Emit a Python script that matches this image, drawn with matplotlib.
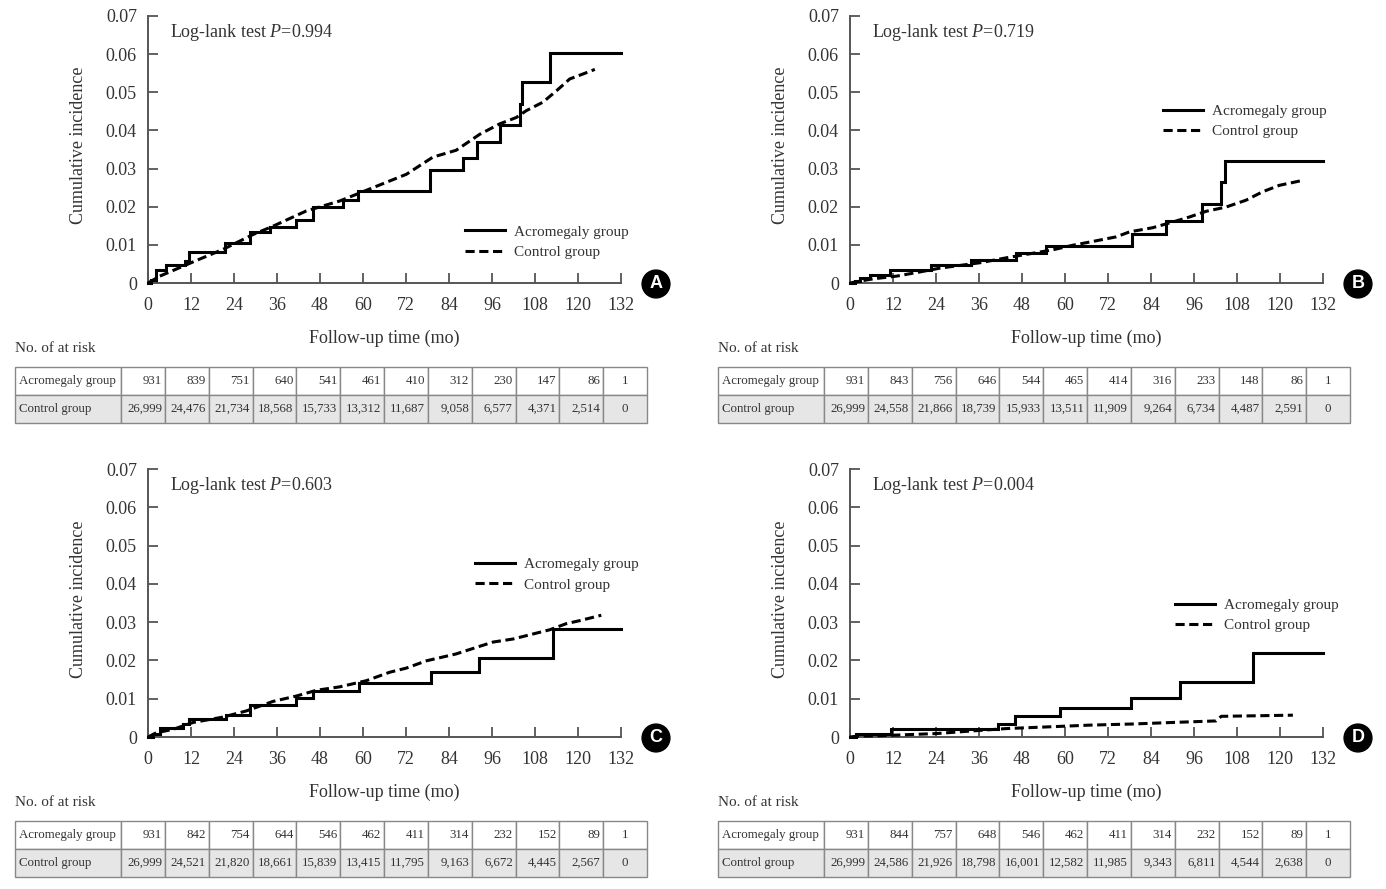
import matplotlib
matplotlib.use("Agg")
import matplotlib.pyplot as plt
from matplotlib.table import Table

plt.rcParams['font.family'] = ['Liberation Serif', 'DejaVu Serif']
plt.rcParams['mathtext.fontset'] = 'custom'
plt.rcParams['mathtext.rm'] = 'Liberation Serif'
plt.rcParams['mathtext.it'] = 'Liberation Serif:italic'

TXT = '#333333'
AXC = '#555555'

# ---------------- data ----------------
x_ticks = [0, 12, 24, 36, 48, 60, 72, 84, 96, 108, 120, 132]
y_ticks = [0, 0.01, 0.02, 0.03, 0.04, 0.05, 0.06, 0.07]
y_tick_labels = ['0', '0.01', '0.02', '0.03', '0.04', '0.05', '0.06', '0.07']
series_names = ['Acromegaly group', 'Control group']
panel_letters = ['A', 'B', 'C', 'D']
p_values = ['0.994', '0.719', '0.603', '0.004']

# Panel A
a_acro_t = [0, 0.9, 2.3, 4.9, 10.2, 11.4, 21.4, 28.4, 34.0, 41.2, 46.0, 54.4, 58.6, 78.6, 87.9, 91.8, 98.1, 103.7, 104.5, 112.3, 132]
a_acro_v = [0, 0.0009, 0.0035, 0.0046, 0.0057, 0.0082, 0.0104, 0.0134, 0.0146, 0.0165, 0.0200, 0.0218, 0.0241, 0.0296, 0.0329, 0.0370, 0.0414, 0.0469, 0.0526, 0.0603, 0.0603]
a_ctrl_t = [0, 3.3, 14.0, 20.9, 29.3, 34.9, 44.2, 53.5, 62.8, 72.1, 79.5, 86.0, 92.6, 98.1, 102.8, 105.6, 110.2, 114.0, 117.7, 121.4, 124.7]
a_ctrl_v = [0, 0.0018, 0.0061, 0.0088, 0.0127, 0.0149, 0.0189, 0.0215, 0.0250, 0.0285, 0.0330, 0.0348, 0.0390, 0.0417, 0.0434, 0.0452, 0.0474, 0.0504, 0.0535, 0.0548, 0.0560]
# Panel B
b_acro_t = [0, 1.4, 2.8, 5.6, 11.1, 22.5, 33.9, 46.4, 54.6, 78.7, 88.2, 98.1, 103.5, 104.7, 132]
b_acro_v = [0, 0.0005, 0.0013, 0.0022, 0.0033, 0.0046, 0.0061, 0.0079, 0.0098, 0.0128, 0.0163, 0.0208, 0.0264, 0.0320, 0.0320]
b_ctrl_t = [0, 2.8, 6.5, 13.0, 19.5, 25.1, 36.2, 43.6, 56.6, 62.2, 67.8, 74.3, 78.0, 84.5, 90.1, 94.7, 99.4, 104.9, 110.5, 115.1, 119.8, 125.8]
b_ctrl_v = [0, 0.0005, 0.0011, 0.0018, 0.0029, 0.0039, 0.0053, 0.0066, 0.0087, 0.0099, 0.0109, 0.0121, 0.0134, 0.0145, 0.0160, 0.0173, 0.0188, 0.0199, 0.0217, 0.0239, 0.0256, 0.0268]
# Panel C
c_acro_t = [0, 1.4, 3.3, 9.8, 11.4, 21.9, 28.4, 41.4, 46.0, 58.9, 78.9, 92.4, 113.0, 132]
c_acro_v = [0, 0.0009, 0.0023, 0.0033, 0.0046, 0.0057, 0.0083, 0.0101, 0.0121, 0.0140, 0.0170, 0.0206, 0.0283, 0.0283]
c_ctrl_t = [0, 2.3, 7.0, 12.6, 20.9, 27.4, 34.9, 41.4, 47.0, 53.5, 60.9, 67.4, 72.1, 77.7, 86.0, 91.6, 96.3, 101.9, 107.4, 112.1, 116.7, 120.5, 126.5]
c_ctrl_v = [0, 0.0011, 0.0020, 0.0038, 0.0052, 0.0068, 0.0093, 0.0107, 0.0122, 0.0131, 0.0147, 0.0169, 0.0180, 0.0199, 0.0217, 0.0234, 0.0248, 0.0256, 0.0269, 0.0280, 0.0296, 0.0304, 0.0318]
# Panel D
d_acro_t = [0, 1.8, 11.5, 41.3, 46.0, 58.5, 78.5, 92.0, 112.5, 132]
d_acro_v = [0, 0.0007, 0.0020, 0.0035, 0.0054, 0.0076, 0.0103, 0.0143, 0.0219, 0.0219]
d_ctrl_t = [0, 1.8, 7.3, 12.9, 24.1, 34.3, 43.6, 56.7, 66.9, 79.0, 90.1, 102.2, 103.6, 123.6]
d_ctrl_v = [0, 0.0002, 0.0003, 0.0005, 0.0009, 0.0016, 0.0022, 0.0027, 0.0031, 0.0034, 0.0038, 0.0042, 0.0054, 0.0057]

# Number at risk
risk_acro = [
    [931, 839, 751, 640, 541, 461, 410, 312, 230, 147, 86, 1],
    [931, 843, 756, 646, 544, 465, 414, 316, 233, 148, 86, 1],
    [931, 842, 754, 644, 546, 462, 411, 314, 232, 152, 89, 1],
    [931, 844, 757, 648, 546, 462, 411, 314, 232, 152, 89, 1],
]
risk_ctrl = [
    [26999, 24476, 21734, 18568, 15733, 13312, 11687, 9058, 6577, 4371, 2514, 0],
    [26999, 24558, 21866, 18739, 15933, 13511, 11909, 9264, 6734, 4487, 2591, 0],
    [26999, 24521, 21820, 18661, 15839, 13415, 11795, 9163, 6672, 4445, 2567, 0],
    [26999, 24586, 21926, 18798, 16001, 12582, 11985, 9343, 6811, 4544, 2638, 0],
]

curves = [
    (a_acro_t, a_acro_v, a_ctrl_t, a_ctrl_v),
    (b_acro_t, b_acro_v, b_ctrl_t, b_ctrl_v),
    (c_acro_t, c_acro_v, c_ctrl_t, c_ctrl_v),
    (d_acro_t, d_acro_v, d_ctrl_t, d_ctrl_v),
]

# ---------------- layout ----------------
W, H = 1386, 889
fig = plt.figure(figsize=(W / 100, H / 100), dpi=100)

def fx(px):
    return px / W

def fy(py):
    return 1 - py / H

# (x0, x132, y0, y007) in pixels
panel_px = [(148, 621, 283, 16), (850, 1323, 283, 16), (148, 621, 737, 469), (850, 1323, 737, 469)]
legend_anchor = [(0.670, 0.217), (0.662, 0.669), (0.691, 0.669), (0.687, 0.517)]
table_px = [(15, 367), (718, 367), (15, 821), (718, 821)]
TBL_W = 632

for i in range(4):
    x0, x1, y0, y1 = panel_px[i]
    ax = fig.add_axes([fx(x0), fy(y0), fx(x1 - x0), (y0 - y1) / H])
    at, av, ct, cv = curves[i]
    ax.plot(at, av, color='black', lw=2.2, drawstyle='steps-post',
            solid_joinstyle='miter', label=series_names[0], clip_on=False, zorder=3)
    ax.plot(ct, cv, color='black', lw=2.2, dashes=(3.0, 1.5),
            label=series_names[1], clip_on=False, zorder=3)
    ax.set_xlim(0, 132)
    ax.set_ylim(0, 0.07)
    ax.set_xticks(x_ticks)
    ax.set_xticklabels([str(t) for t in x_ticks])
    ax.set_yticks(y_ticks)
    ax.set_yticklabels(y_tick_labels)
    for s in ['top', 'right']:
        ax.spines[s].set_visible(False)
    for s in ['left', 'bottom']:
        ax.spines[s].set_color(AXC)
        ax.spines[s].set_linewidth(1.4)
    ax.tick_params(direction='in', length=7, width=1.3, color=AXC,
                   labelsize=13, labelcolor=TXT)
    ax.tick_params(axis='x', pad=10)
    ax.tick_params(axis='y', pad=8)
    ax.set_xlabel('Follow-up time (mo)', fontsize=13, color=TXT)
    ax.xaxis.set_label_coords(0.5, -0.176)
    ax.set_ylabel('Cumulative incidence', fontsize=13, color=TXT)
    ax.yaxis.set_label_coords(-0.128, 0.515)
    ax.text(0.046, 0.94, r'Log-lank test $\mathit{P}$=' + p_values[i], transform=ax.transAxes,
            fontsize=13, color=TXT, ha='left', va='center')
    leg = ax.legend(loc='upper left', bbox_to_anchor=legend_anchor[i], frameon=False,
                    fontsize=11, handlelength=2.6, handletextpad=0.6, borderpad=0,
                    borderaxespad=0, labelspacing=0.43)
    for t in leg.get_texts():
        t.set_color(TXT)
    ax.set_facecolor('none')

    # panel letter
    fig.text(fx(x1 + 35), fy(y0 + 1), panel_letters[i], fontsize=13, fontweight='bold',
             family='Liberation Sans', color='white', ha='center', va='center',
             bbox=dict(boxstyle='circle,pad=0.3', fc='black', ec='black'))

    # number at risk table
    tx, ty = table_px[i]
    fig.text(fx(tx), fy(ty - 19), 'No. of at risk', fontsize=11, color=TXT,
             ha='left', va='center')
    tax = fig.add_axes([fx(tx), fy(ty + 56), fx(TBL_W), 56 / H])
    tax.axis('off')
    tb = Table(tax, bbox=[0, 0, 1, 1])
    widths = [106 / TBL_W] + [(TBL_W - 106) / 12 / TBL_W] * 12
    rows = [[series_names[0]] + [f'{v:,}' for v in risk_acro[i]],
            [series_names[1]] + [f'{v:,}' for v in risk_ctrl[i]]]
    for r, row in enumerate(rows):
        fc = 'white' if r == 0 else '#e6e6e6'
        for c, val in enumerate(row):
            loc = 'left' if c == 0 else ('center' if c == 12 else 'right')
            cell = tb.add_cell(r, c, width=widths[c], height=0.5, text=val, loc=loc,
                               facecolor=fc, edgecolor='#888888')
            cell.PAD = 0.04 if c == 0 else 0.06
            cell.set_linewidth(1.0)
            cell.get_text().set_color(TXT)
    tb.auto_set_font_size(False)
    tb.set_fontsize(9.3)
    tax.add_table(tb)

fig.savefig('out.png', dpi=100)
